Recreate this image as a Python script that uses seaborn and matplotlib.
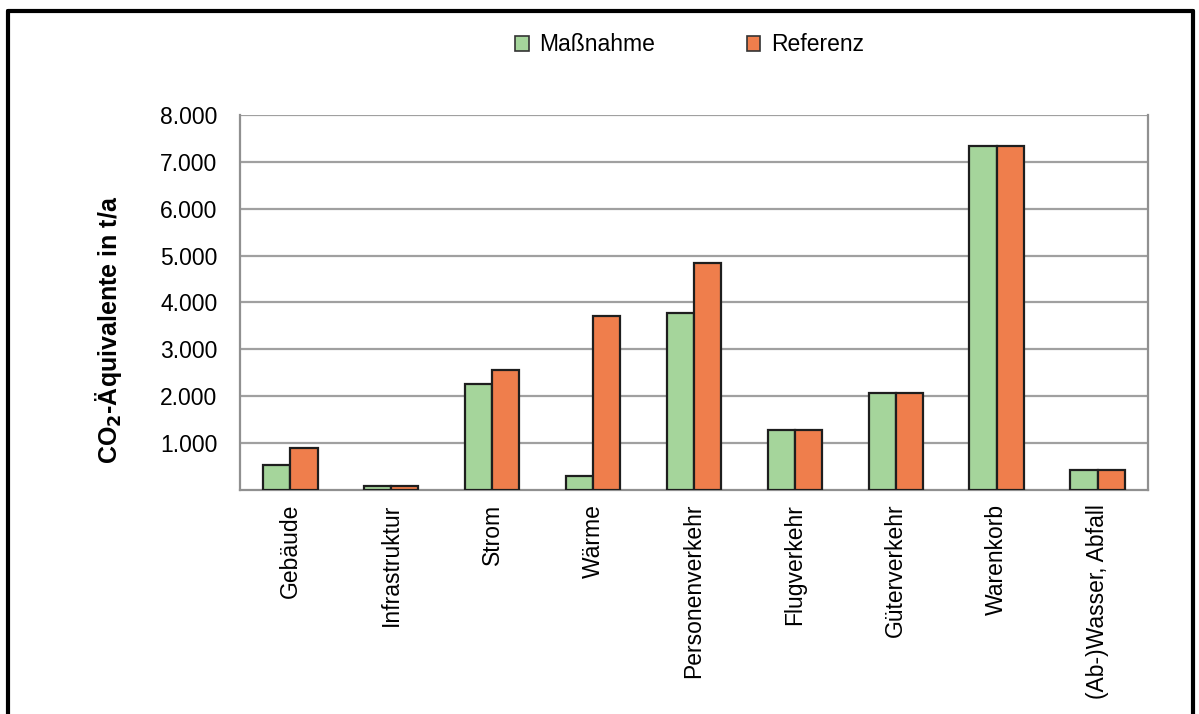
import pandas as pd
import seaborn as sns
import matplotlib.pyplot as plt
from matplotlib.lines import Line2D
from matplotlib.patches import Patch

# Data
categories = ['Gebäude', 'Infrastruktur', 'Strom', 'Wärme', 'Personenverkehr',
              'Flugverkehr', 'Güterverkehr', 'Warenkorb', '(Ab-)Wasser, Abfall']
massnahme = [530, 85, 2260, 300, 3770, 1280, 2070, 7340, 430]
referenz = [900, 85, 2560, 3700, 4840, 1280, 2070, 7340, 430]
series_names = ['Maßnahme', 'Referenz']
y_ticks = [1000, 2000, 3000, 4000, 5000, 6000, 7000, 8000]
y_tick_labels = ['1.000', '2.000', '3.000', '4.000', '5.000', '6.000', '7.000', '8.000']

colors = {'Maßnahme': '#a5d59b', 'Referenz': '#ef7e4c'}
FS = 16.5


def run():
    df = pd.DataFrame({
        'Kategorie': categories * 2,
        'Wert': massnahme + referenz,
        'Serie': [series_names[0]] * len(categories) + [series_names[1]] * len(categories),
    })

    sns.set_style("white")
    plt.rcParams['font.family'] = ['Liberation Sans', 'DejaVu Sans']
    plt.rcParams['text.color'] = 'black'
    plt.rcParams['axes.labelcolor'] = 'black'
    plt.rcParams['xtick.labelcolor'] = 'black'
    plt.rcParams['ytick.labelcolor'] = 'black'

    fig = plt.figure(figsize=(11.99, 7.14), dpi=100)
    ax = fig.add_axes([0.200, 0.314, 0.7575, 0.525])

    sns.barplot(data=df, x='Kategorie', y='Wert', hue='Serie', order=categories,
                hue_order=series_names, palette=colors, width=0.54, gap=0,
                edgecolor='#1e1e1e', linewidth=1.6, saturation=1, legend=False, ax=ax,
                zorder=3)

    # grid and axes
    ax.set_ylim(0, 8000)
    ax.set_xlim(-0.5, len(categories) - 0.5)
    ax.set_yticks(y_ticks)
    ax.set_yticklabels(y_tick_labels, fontsize=FS)
    ax.yaxis.grid(True, color='#a0a0a0', linewidth=1.6, zorder=0)
    ax.set_axisbelow(True)
    ax.tick_params(axis='y', length=10, width=1.4, color='#909090', pad=6)

    ax.set_xticks(range(len(categories)))
    ax.set_xticklabels(categories, rotation=90, fontsize=FS, va='top')
    ax.set_xticks([i - 0.5 for i in range(len(categories) + 1)], minor=True)
    ax.tick_params(axis='x', which='major', length=0, pad=10)
    ax.tick_params(axis='x', which='minor', length=6, width=1.2, color='#909090',
                   direction='out')

    for side in ['left', 'bottom', 'right']:
        ax.spines[side].set_color('#909090')
        ax.spines[side].set_linewidth(1.6)
    ax.spines['top'].set_visible(False)

    ax.set_xlabel('')
    ax.set_ylabel(r'CO$_\mathbf{2}$-Äquivalente in t/a', fontsize=18,
                  fontweight='bold')
    ax.yaxis.set_label_coords(-0.127, 0.427)

    # legend at top
    handles = [Patch(facecolor=colors[s], edgecolor='#333333', linewidth=1.2)
               for s in series_names]
    fig.legend(handles, series_names, loc='center', bbox_to_anchor=(0.575, 0.937),
               ncol=2, frameon=False, fontsize=FS, handlelength=0.6,
               handleheight=0.6, handletextpad=0.45, columnspacing=4.0)

    # outer frame (bottom edge cut off in the original)
    frame_kw = dict(color='black', linewidth=3, transform=fig.transFigure)
    fig.add_artist(Line2D([0.0065, 0.0065], [0.0, 0.985], **frame_kw))
    fig.add_artist(Line2D([0.0065, 0.995], [0.985, 0.985], **frame_kw))
    fig.add_artist(Line2D([0.995, 0.995], [0.0, 0.985], **frame_kw))

    plt.savefig('out.png', dpi=100)
    plt.close()


if __name__ == "__main__":
    run()
